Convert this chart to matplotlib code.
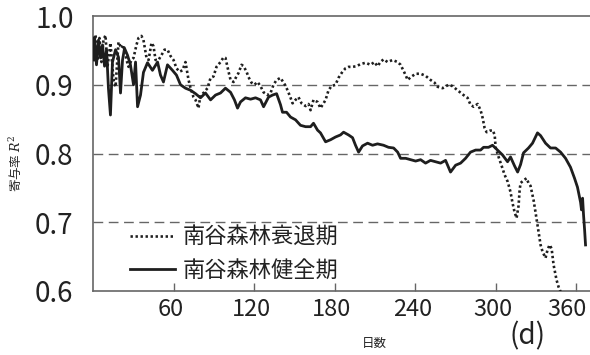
import matplotlib
matplotlib.use("Agg")
import matplotlib.pyplot as plt
from matplotlib.lines import Line2D
from matplotlib.transforms import ScaledTranslation

plt.rcParams['font.family'] = ['Noto Sans CJK JP', 'DejaVu Sans']
plt.rcParams['mathtext.fontset'] = 'dejavuserif'

# 南谷森林健全期
days_healthy = [0.4, 1.1, 2.6, 4.1, 5.6, 7.1, 8.6, 10.1, 11.5, 13.0, 14.5, 16.8, 19.0, 20.5,
                22.0, 23.5, 25.7, 27.9, 30.2, 31.7, 33.2, 35.4, 37.6, 40.6, 44.3, 48.1, 50.3,
                52.5, 55.5, 59.2, 62.2, 65.2, 68.9, 72.7, 76.4, 80.1, 83.8, 87.6, 91.3, 95.0,
                98.7, 102.5, 105.4, 107.7, 109.9, 113.6, 117.4, 121.1, 124.8, 127.1, 130.8,
                133.8, 136.8, 139.7, 141.2, 144.2, 147.2, 150.9, 154.6, 158.4, 162.1, 164.3,
                167.3, 169.5, 173.3, 177.0, 180.7, 184.4, 186.7, 190.4, 193.4, 195.6, 197.9,
                200.8, 204.6, 208.3, 212.0, 216.5, 220.2, 224.0, 227.0, 229.2, 233.0, 236.7,
                240.4, 244.1, 247.8, 251.5, 255.3, 259.0, 262.7, 266.4, 270.2, 273.9, 277.6,
                281.3, 285.1, 288.8, 291.0, 294.7, 297.7, 301.4, 305.1, 308.9, 311.1, 314.1,
                316.4, 318.6, 320.8, 324.5, 327.5, 329.7, 331.2, 333.5, 337.2, 340.9, 344.7,
                348.4, 352.1, 355.8, 358.8, 361.0, 363.3, 364.0, 364.8, 365.5, 366.3, 367.0]
r2_healthy = [0.936, 0.969, 0.929, 0.965, 0.939, 0.958, 0.927, 0.951, 0.895, 0.856, 0.933,
              0.951, 0.940, 0.888, 0.936, 0.953, 0.943, 0.929, 0.900, 0.933, 0.868, 0.885,
              0.918, 0.932, 0.921, 0.933, 0.914, 0.904, 0.929, 0.921, 0.914, 0.900, 0.895,
              0.892, 0.887, 0.881, 0.888, 0.878, 0.885, 0.888, 0.895, 0.889, 0.878, 0.866,
              0.875, 0.881, 0.879, 0.881, 0.878, 0.868, 0.882, 0.885, 0.887, 0.871, 0.860,
              0.860, 0.853, 0.849, 0.841, 0.839, 0.839, 0.844, 0.834, 0.830, 0.817, 0.820,
              0.824, 0.827, 0.831, 0.827, 0.823, 0.812, 0.802, 0.811, 0.815, 0.812, 0.814,
              0.812, 0.809, 0.808, 0.802, 0.793, 0.793, 0.791, 0.789, 0.791, 0.786, 0.790,
              0.788, 0.786, 0.790, 0.773, 0.783, 0.786, 0.793, 0.802, 0.805, 0.805, 0.809,
              0.809, 0.812, 0.805, 0.798, 0.788, 0.795, 0.782, 0.773, 0.784, 0.801, 0.808,
              0.815, 0.824, 0.830, 0.826, 0.815, 0.808, 0.808, 0.802, 0.793, 0.780, 0.764,
              0.751, 0.729, 0.718, 0.735, 0.711, 0.689, 0.667]

# 南谷森林衰退期
days_decline = [0.4, 1.9, 3.4, 4.8, 6.3, 7.8, 9.3, 10.8, 13.0, 15.3, 16.8, 19.0, 21.2, 22.7,
                25.0, 26.5, 28.7, 30.2, 32.4, 33.9, 36.1, 37.6, 39.9, 41.4, 43.6, 45.1, 46.6,
                48.8, 51.0, 53.3, 55.5, 57.7, 60.0, 62.2, 64.5, 66.7, 68.9, 71.2, 72.7, 74.9,
                76.4, 78.6, 80.1, 82.3, 85.3, 87.6, 89.8, 92.0, 95.0, 97.3, 98.7, 101.0, 102.5,
                104.7, 106.9, 108.4, 110.7, 112.2, 114.4, 115.9, 118.1, 120.3, 122.6, 124.8,
                127.1, 130.0, 132.3, 134.5, 136.8, 139.7, 142.7, 145.0, 147.2, 148.7, 150.9,
                153.1, 155.4, 158.4, 160.6, 162.1, 164.3, 167.3, 169.5, 171.8, 173.3, 175.5,
                177.7, 180.7, 182.9, 185.9, 188.2, 190.4, 193.4, 196.4, 199.3, 203.1, 206.8,
                209.7, 212.0, 214.2, 216.5, 219.5, 223.2, 227.0, 229.2, 232.2, 234.5, 236.7,
                240.4, 244.1, 247.8, 251.5, 254.5, 256.8, 260.5, 264.9, 267.9, 271.6, 276.1,
                279.1, 281.3, 283.6, 286.6, 288.8, 290.3, 291.8, 293.3, 295.5, 297.8, 299.3,
                300.0, 302.2, 304.5, 306.7, 309.0, 311.1, 312.6, 314.1, 315.6, 317.1, 317.9,
                318.6, 320.8, 323.1, 324.5, 326.0, 328.3, 329.7, 332.0, 333.5, 335.0, 337.2,
                338.7, 340.2, 341.7, 343.2, 345.4, 346.9, 348.4]
r2_decline = [0.958, 0.972, 0.936, 0.968, 0.933, 0.965, 0.972, 0.926, 0.961, 0.907, 0.897,
              0.962, 0.953, 0.958, 0.936, 0.926, 0.936, 0.939, 0.958, 0.968, 0.971, 0.965,
              0.939, 0.936, 0.961, 0.956, 0.936, 0.936, 0.943, 0.951, 0.951, 0.942, 0.936,
              0.924, 0.919, 0.921, 0.933, 0.907, 0.895, 0.882, 0.878, 0.866, 0.885, 0.888,
              0.895, 0.910, 0.912, 0.926, 0.933, 0.940, 0.939, 0.919, 0.907, 0.904, 0.912,
              0.917, 0.929, 0.927, 0.919, 0.911, 0.903, 0.900, 0.904, 0.898, 0.889, 0.885,
              0.888, 0.900, 0.907, 0.910, 0.901, 0.892, 0.881, 0.873, 0.878, 0.882, 0.873,
              0.869, 0.872, 0.863, 0.878, 0.875, 0.866, 0.873, 0.878, 0.892, 0.898, 0.900,
              0.910, 0.919, 0.924, 0.926, 0.926, 0.927, 0.930, 0.932, 0.929, 0.933, 0.927,
              0.933, 0.937, 0.933, 0.936, 0.933, 0.929, 0.917, 0.907, 0.911, 0.916, 0.916,
              0.913, 0.907, 0.903, 0.897, 0.895, 0.900, 0.898, 0.892, 0.885, 0.881, 0.871,
              0.868, 0.872, 0.863, 0.852, 0.837, 0.831, 0.833, 0.834, 0.827, 0.809, 0.795,
              0.782, 0.769, 0.759, 0.744, 0.728, 0.715, 0.706, 0.724, 0.747, 0.757, 0.761,
              0.764, 0.757, 0.753, 0.732, 0.715, 0.686, 0.667, 0.657, 0.648, 0.660, 0.667,
              0.662, 0.638, 0.616, 0.606, 0.599]

x_ticks = [60, 120, 180, 240, 300, 360]
y_ticks = [0.6, 0.7, 0.8, 0.9, 1.0]
y_ticklabels = ['0.6', '0.7', '0.8', '0.9', '1.0']
legend_labels = ['南谷森林衰退期', '南谷森林健全期']

fig = plt.figure(figsize=(5.9, 3.55), dpi=100)
ax = fig.add_axes([93 / 590, 64 / 355, 497.5 / 590, 275 / 355])

for y in [0.7, 0.8, 0.9]:
    ax.axhline(y, color='#666666', lw=1.0, dashes=(7, 4), zorder=1)

ink = '#1e1e1e'
ax.plot(days_decline, r2_decline, color=ink, lw=1.9, dashes=(0.9, 1.0), zorder=3)
ax.plot(days_healthy, r2_healthy, color=ink, lw=2.0, zorder=4)

ax.set_xlim(0, 370.7)
ax.set_ylim(0.6, 1.0)
ax.set_xticks(x_ticks)
ax.set_yticks(y_ticks)
ax.set_yticklabels(y_ticklabels)

for side in ['top', 'left', 'bottom']:
    ax.spines[side].set_color('#666666')
    ax.spines[side].set_linewidth(1.2)
ax.spines['right'].set_visible(False)

ax.tick_params(axis='x', direction='in', length=6, width=1, color='#666666',
               labelsize=17, pad=5, labelcolor='#222222')
ax.tick_params(axis='y', length=0, labelsize=20, pad=14, labelcolor='#222222')

# nudge the day labels left; the last one sits against the right edge
xlabels = ax.get_xticklabels()
for i, lab in enumerate(xlabels):
    shift = -6.5 if i == len(xlabels) - 1 else -2.0
    lab.set_transform(lab.get_transform() + ScaledTranslation(shift / 72, 0, fig.dpi_scale_trans))

handles = [Line2D([], [], color=ink, lw=1.9, dashes=(0.9, 1.0)),
           Line2D([], [], color=ink, lw=2.0)]
ax.legend(handles, legend_labels, loc='lower left', bbox_to_anchor=(0.035, -0.04),
          frameon=False, fontsize=16, handlelength=2.0, handletextpad=0.35,
          labelspacing=0.45, labelcolor='#222222')

fig.text(15 / 590, 1 - 163 / 355, r'寄与率 $R^2$', rotation=90, ha='center', va='center',
         fontsize=9, color='#222222')
fig.text(374 / 590, 1 - 343 / 355, '日数', ha='center', va='center', fontsize=9,
         color='#222222')
fig.text(528 / 590, 1 - 336 / 355, '(d)', ha='center', va='center', fontsize=20,
         color='#222222')

fig.savefig('out.png', dpi=100)
